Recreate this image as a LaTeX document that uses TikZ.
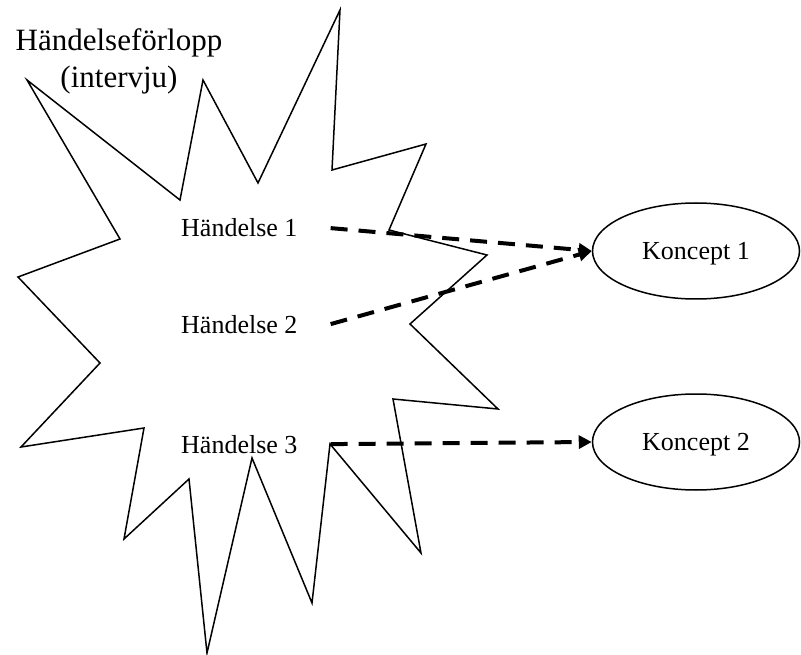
\documentclass[tikz,border=0pt]{standalone}
\usepackage{fontspec}
\setmainfont{Liberation Serif}
\usetikzlibrary{arrows.meta,shapes.geometric}

\begin{document}
\begin{tikzpicture}[x=1pt,y=-1pt]
\useasboundingbox (0,0) rectangle (801,655);
% the burst
\draw[line width=1.5pt] (27,80)--(180,200)--(203,80)--(258,183)--(340,10)--(332,170)--(426,144)--(389,230)--(487,255)--(410,324)--(498,409)--(393,399)--(421,553)--(330,444)--(312,603)--(252,458)--(207,653)--(189,479)--(124,539)--(144,428)--(21,447)--(100,363)--(18,277)--(120,239)--cycle;
\node[align=center,inner sep=0pt,font=\fontsize{31}{37}\selectfont] (titel) at (119,61) {Händelseförlopp\\(intervju)};
\node[anchor=base west,inner sep=0pt,font=\fontsize{26}{30}\selectfont] (h1) at (181,237) {Händelse 1};
\node[anchor=base west,inner sep=0pt,font=\fontsize{26}{30}\selectfont] (h2) at (181,333) {Händelse 2};
\node[anchor=base west,inner sep=0pt,font=\fontsize{26}{30}\selectfont] (h3) at (181,453) {Händelse 3};
\node[draw,ellipse,line width=1.5pt,minimum width=207pt,minimum height=96pt,inner sep=0pt,text depth=0pt,font=\fontsize{26}{30}\selectfont] (k1) at (696,251) {Koncept 1};
\node[draw,ellipse,line width=1.5pt,minimum width=207pt,minimum height=96pt,inner sep=0pt,text depth=0pt,font=\fontsize{26}{30}\selectfont] (k2) at (696,442) {Koncept 2};
% dashed links
\draw[-{Triangle[length=13pt,width=13pt]},line width=4pt,dash pattern=on 17pt off 11pt] ([xshift=33pt]h1.east)--(k1.west);
\draw[-{Triangle[length=13pt,width=13pt]},line width=4pt,dash pattern=on 17pt off 11pt] ([xshift=33pt]h2.east)--(k1.west);
\draw[-{Triangle[length=13pt,width=13pt]},line width=4pt,dash pattern=on 17pt off 11pt] ([xshift=33pt]h3.east)--(k2.west);
\end{tikzpicture}
\end{document}
